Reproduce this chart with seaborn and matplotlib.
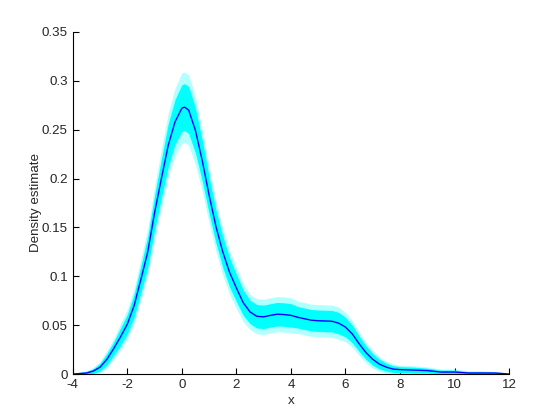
import numpy as np
import pandas as pd
import matplotlib
matplotlib.use("Agg")
import matplotlib.pyplot as plt
import seaborn as sns

# density estimate
x_vals = [-4, -3.75, -3.5, -3.25, -3, -2.75, -2.5, -2.25, -2, -1.75, -1.5, -1.25,
          -1, -0.75, -0.5, -0.25, 0, 0.1, 0.25, 0.5, 0.75, 1, 1.25, 1.5, 1.75, 2,
          2.25, 2.5, 2.75, 3, 3.25, 3.5, 3.75, 4, 4.25, 4.5, 4.75, 5, 5.5, 5.75,
          6, 6.25, 6.5, 6.75, 7, 7.25, 7.5, 7.75, 8, 8.5, 9, 9.5, 10, 10.5, 11,
          11.5, 12]
density = [0.0, 0.0005, 0.001, 0.003, 0.007, 0.015, 0.026, 0.038, 0.051, 0.07,
           0.097, 0.125, 0.165, 0.2, 0.234, 0.258, 0.272, 0.273, 0.27, 0.249,
           0.218, 0.183, 0.151, 0.125, 0.104, 0.088, 0.073, 0.0635, 0.059,
           0.0585, 0.06, 0.0612, 0.0608, 0.06, 0.058, 0.0565, 0.055, 0.0545,
           0.054, 0.052, 0.048, 0.041, 0.031, 0.022, 0.015, 0.01, 0.007, 0.005,
           0.0045, 0.004, 0.0035, 0.002, 0.002, 0.001, 0.001, 0.001, 0.0]
# half-width of the cyan bootstrap cloud around the curve
spread = [0.0, 0.001, 0.0015, 0.0025, 0.004, 0.006, 0.007, 0.009, 0.010, 0.012,
          0.014, 0.016, 0.018, 0.020, 0.022, 0.023, 0.024, 0.024, 0.024, 0.023,
          0.021, 0.019, 0.017, 0.016, 0.015, 0.014, 0.013, 0.012, 0.012, 0.012,
          0.012, 0.012, 0.012, 0.012, 0.011, 0.011, 0.011, 0.011, 0.011, 0.011,
          0.010, 0.009, 0.008, 0.007, 0.006, 0.005, 0.004, 0.0035, 0.003, 0.003,
          0.0025, 0.002, 0.002, 0.0015, 0.0015, 0.001, 0.0005]

df = pd.DataFrame({"x": x_vals, "density": density, "spread": spread})
lo = df["density"] - df["spread"]
hi = df["density"] + df["spread"]

sns.set_style("ticks")
plt.rcParams["font.family"] = ["Liberation Sans", "DejaVu Sans"]
plt.rcParams["axes.unicode_minus"] = False
plt.rcParams["xtick.direction"] = "in"
plt.rcParams["ytick.direction"] = "in"

fig = plt.figure(figsize=(5.6, 4.2), dpi=100)
ax = fig.add_axes([0.13, 0.1095, 0.779, 0.8145])

# outer scattered fringe and dense core of the cloud
ax.fill_between(df["x"], (df["density"] - 1.5 * df["spread"]).clip(lower=0),
                df["density"] + 1.5 * df["spread"], color="#00ffff", alpha=0.3,
                linewidth=0)
ax.fill_between(df["x"], lo.clip(lower=0), hi, color="#00ffff", linewidth=0)
sns.lineplot(data=df, x="x", y="density", color="#0000ff", linewidth=1.0, ax=ax)

ax.set_xlim(-4, 12)
ax.set_ylim(0, 0.35)
ax.set_xticks(range(-4, 13, 2))
ax.set_yticks([0, 0.05, 0.1, 0.15, 0.2, 0.25, 0.3, 0.35])
ax.set_yticklabels(["0", "0.05", "0.1", "0.15", "0.2", "0.25", "0.3", "0.35"])
ax.tick_params(labelsize=9.6, length=4, width=0.8, color="black")
ax.set_xlabel("x", fontsize=9.6, labelpad=3)
ax.set_ylabel("Density estimate", fontsize=9.6, labelpad=0)
sns.despine(ax=ax)
for s in ["left", "bottom"]:
    ax.spines[s].set_color("black")
    ax.spines[s].set_linewidth(0.8)

fig.savefig("out.png", dpi=100)
